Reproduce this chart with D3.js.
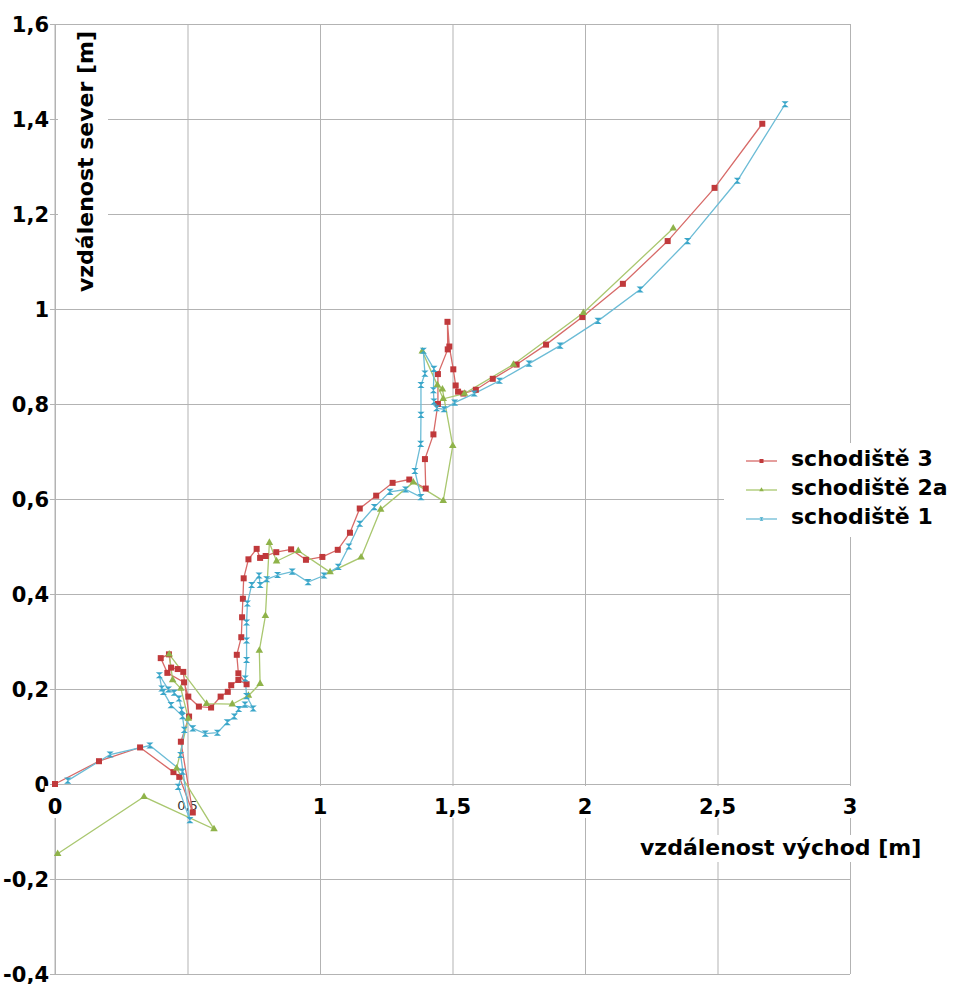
<!DOCTYPE html>
<html><head><meta charset="utf-8">
<script src="https://cdn.jsdelivr.net/npm/d3@7"></script>
<style>
html,body{margin:0;padding:0;background:#fff;}
svg{display:block;}
</style></head>
<body>
<svg id="chart" width="953" height="984"></svg>
<script>
// ---- data ----
const seriesNames = ["schodiště 3", "schodiště 2a", "schodiště 1"];
const xTicks = [0, 0.5, 1, 1.5, 2, 2.5, 3];
const yTicks = [-0.4, -0.2, 0, 0.2, 0.4, 0.6, 0.8, 1, 1.2, 1.4, 1.6];
const xTitle = "vzdálenost východ [m]";
const yTitle = "vzdálenost sever [m]";

const schodiste3 = [
 [0,0],[0.166,0.048],[0.321,0.077],[0.447,0.025],[0.469,0.015],[0.520,-0.060],[0.475,0.089],
 [0.506,0.142],[0.484,0.236],[0.463,0.242],[0.438,0.245],[0.430,0.273],[0.399,0.265],[0.424,0.234],
 [0.487,0.214],[0.503,0.184],[0.543,0.163],[0.589,0.161],[0.625,0.184],[0.652,0.194],[0.665,0.208],
 [0.692,0.219],[0.723,0.210],[0.692,0.233],[0.686,0.272],[0.703,0.309],[0.706,0.351],[0.709,0.390],
 [0.712,0.433],[0.730,0.473],[0.761,0.495],[0.774,0.476],[0.795,0.480],[0.835,0.488],[0.891,0.494],
 [0.947,0.472],[1.009,0.478],[1.067,0.493],[1.113,0.529],[1.150,0.580],[1.212,0.607],[1.274,0.634],
 [1.337,0.641],[1.399,0.622],[1.396,0.684],[1.428,0.736],[1.445,0.800],[1.445,0.863],[1.482,0.915],
 [1.481,0.973],[1.488,0.921],[1.503,0.873],[1.512,0.839],[1.521,0.826],[1.541,0.822],[1.588,0.830],
 [1.652,0.853],[1.742,0.883],[1.853,0.925],[1.990,0.983],[2.143,1.053],[2.312,1.143],[2.489,1.255],
 [2.669,1.390]
];
const schodiste2a = [
 [0.010,-0.147],[0.336,-0.027],[0.600,-0.095],[0.459,0.033],[0.503,0.138],[0.475,0.201],[0.444,0.219],
 [0.431,0.273],[0.572,0.169],[0.669,0.168],[0.730,0.186],[0.774,0.211],[0.771,0.281],[0.794,0.354],
 [0.809,0.508],[0.836,0.469],[0.918,0.491],[1.038,0.446],[1.155,0.477],[1.229,0.578],[1.352,0.635],
 [1.465,0.596],[1.501,0.712],[1.462,0.831],[1.443,0.840],[1.386,0.911],[1.465,0.811],[1.545,0.822],
 [1.730,0.883],[1.994,0.992],[2.333,1.170]
];
const schodiste1 = [
 [0.048,0.007],[0.208,0.062],[0.358,0.081],[0.481,0.026],[0.465,-0.006],[0.509,-0.076],[0.474,0.061],
 [0.488,0.114],[0.478,0.156],[0.468,0.180],[0.450,0.192],[0.428,0.199],[0.394,0.229],[0.403,0.201],
 [0.409,0.194],[0.438,0.166],[0.481,0.143],[0.520,0.117],[0.567,0.106],[0.613,0.108],[0.650,0.130],
 [0.677,0.142],[0.693,0.158],[0.717,0.167],[0.748,0.159],[0.723,0.185],[0.718,0.222],[0.723,0.261],
 [0.723,0.302],[0.723,0.340],[0.726,0.380],[0.742,0.419],[0.770,0.439],[0.774,0.419],[0.799,0.431],
 [0.840,0.440],[0.895,0.447],[0.955,0.425],[1.015,0.439],[1.069,0.457],[1.109,0.500],[1.150,0.548],
 [1.205,0.583],[1.264,0.615],[1.323,0.620],[1.381,0.604],[1.358,0.659],[1.380,0.716],[1.381,0.777],
 [1.381,0.840],[1.396,0.864],[1.390,0.912],[1.430,0.874],[1.428,0.829],[1.430,0.805],[1.440,0.791],
 [1.468,0.789],[1.508,0.803],[1.582,0.822],[1.677,0.849],[1.789,0.885],[1.906,0.923],[2.049,0.975],
 [2.208,1.041],[2.387,1.143],[2.575,1.270],[2.755,1.431]
];

// ---- chart ----
const FONT = "'DejaVu Sans', 'Liberation Sans', Arial, sans-serif";
const svg = d3.select("#chart");
const x = d3.scaleLinear().domain([0, 3]).range([55, 850]);
const y = d3.scaleLinear().domain([-0.4, 1.6]).range([974, 24]);
const fmt = d => String(+d.toFixed(2)).replace(".", ",");

const gridColor = "#b3b3b3";

// vertical gridlines via axis
const gx = svg.append("g").attr("transform", `translate(0,${y(0)})`)
  .call(d3.axisBottom(x).tickValues(xTicks).tickSize(0).tickFormat(""));
gx.select(".domain").remove();
gx.selectAll(".tick line").attr("y1", y(1.6) - y(0)).attr("y2", y(-0.4) - y(0))
  .attr("stroke", gridColor).attr("stroke-width", 1);

// horizontal gridlines via axis
const gy = svg.append("g").attr("transform", `translate(${x(0)},0)`)
  .call(d3.axisLeft(y).tickValues(yTicks).tickSize(0).tickFormat(""));
gy.select(".domain").remove();
gy.selectAll(".tick line").attr("x1", -5).attr("x2", x(3) - x(0))
  .attr("stroke", gridColor).attr("stroke-width", 1);
// y axis line
svg.append("line").attr("x1", x(0)).attr("x2", x(0)).attr("y1", y(1.6)).attr("y2", y(-0.4))
  .attr("stroke", gridColor).attr("stroke-width", 1);

// white boxes (titles & legend backgrounds)
svg.append("rect").attr("x", 58).attr("y", 27).attr("width", 50).attr("height", 273).attr("fill", "#fff");
svg.append("rect").attr("x", 632).attr("y", 835).attr("width", 298).attr("height", 27).attr("fill", "#fff");
svg.append("rect").attr("x", 724).attr("y", 443).attr("width", 229).attr("height", 94).attr("fill", "#fff");

// y tick labels
svg.append("g").selectAll("text").data(yTicks).join("text")
  .attr("x", 49).attr("y", d => y(d)).attr("dy", "0.36em")
  .attr("text-anchor", "end").attr("font-family", FONT).attr("font-weight", "bold")
  .attr("font-size", 21).attr("fill", "#000").text(fmt);

// x tick labels
const xl = svg.append("g");
xTicks.forEach(v => {
  if (v === 0.5) {
    xl.append("text").attr("x", x(v)).attr("y", 810).attr("text-anchor", "middle")
      .attr("font-family", FONT).attr("font-size", 13).attr("fill", "#333").text(fmt(v));
    return;
  }
  const bg = xl.append("rect").attr("fill", "#fff");
  const t = xl.append("text").attr("x", x(v)).attr("y", 814).attr("text-anchor", "middle")
    .attr("font-family", FONT).attr("font-weight", "bold").attr("font-size", 21)
    .attr("fill", "#000").text(fmt(v));
  const b = t.node().getBBox();
  bg.attr("x", b.x - 3).attr("y", 786).attr("width", b.width + 6).attr("height", 32);
});

// axis titles
svg.append("text").attr("transform", `translate(93,${(30 + 293) / 2}) rotate(-90)`)
  .attr("text-anchor", "middle").attr("font-family", FONT).attr("font-weight", "bold")
  .attr("font-size", 22).attr("fill", "#000").text(yTitle);
svg.append("text").attr("x", 640).attr("y", 855)
  .attr("font-family", FONT).attr("font-weight", "bold")
  .attr("font-size", 22).attr("fill", "#000").text(xTitle);

// series
const colors = {
  line: ["#d76a68", "#a9c76f", "#6cbcd6"],
  mark: ["#c0393b", "#8fb34a", "#3aa6c9"]
};
const hourglass = s => `M${-s},${-s * 0.85}L${s},${-s * 0.85}L${-s},${s * 0.85}L${s},${s * 0.85}Z`;
const symbolFns = [
  (g, s) => g.append("rect").attr("x", -s).attr("y", -s).attr("width", 2 * s).attr("height", 2 * s),
  (g, s) => g.append("path").attr("d", d3.symbol(d3.symbolTriangle, s * s * 2.4)()),
  (g, s) => g.append("path").attr("d", hourglass(s))
];
const allSeries = [schodiste3, schodiste2a, schodiste1];
const line = d3.line().x(d => x(d[0])).y(d => y(d[1]));
const markerSize = [3, 3.2, 3.6];

allSeries.forEach((data, i) => {
  svg.append("path").datum(data).attr("d", line).attr("fill", "none")
    .attr("stroke", colors.line[i]).attr("stroke-width", 1.3);
});
allSeries.forEach((data, i) => {
  const g = svg.append("g").attr("fill", colors.mark[i]);
  data.forEach(d => {
    const m = g.append("g").attr("transform", `translate(${x(d[0])},${y(d[1])})`);
    symbolFns[i](m, markerSize[i]);
  });
});

// legend
const legY = [461, 490, 519];
seriesNames.forEach((name, i) => {
  svg.append("line").attr("x1", 746).attr("x2", 777).attr("y1", legY[i]).attr("y2", legY[i])
    .attr("stroke", colors.line[i]).attr("stroke-width", 1.3);
  const m = svg.append("g").attr("fill", colors.mark[i]).attr("transform", `translate(761.5,${legY[i]})`);
  symbolFns[i](m, 2);
  svg.append("text").attr("x", 791).attr("y", legY[i] + 5)
    .attr("font-family", FONT).attr("font-weight", "bold").attr("font-size", 22)
    .attr("fill", "#000").text(name);
});
</script>
</body></html>
